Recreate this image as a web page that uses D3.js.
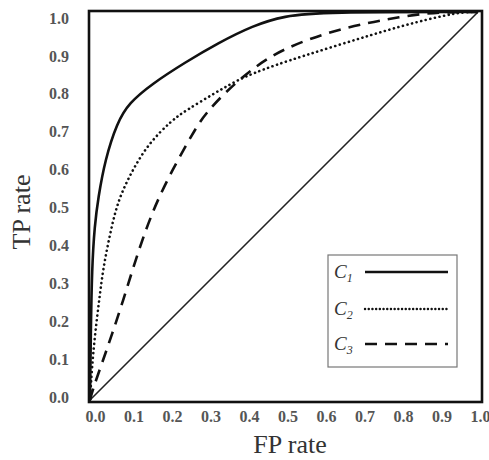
<!DOCTYPE html>
<html lang="en">
<head>
    <meta charset="UTF-8">
    <title>ROC curves</title>
    <style>
        body { margin: 0; background: #fff; }
        .tick text { font: bold 16px "Liberation Serif", "DejaVu Serif", serif; fill: #555; }
        .axis-title { font: 26px "Liberation Serif", serif; fill: #333; }
        .leg text { font: italic 19px "Liberation Serif", serif; fill: #333; }
    </style>
</head>
<body>
    <div id="chart"></div>

    <script src="https://d3js.org/d3.v7.min.js"></script>
    <script>
        // values
        const ticks = [0, 0.1, 0.2, 0.3, 0.4, 0.5, 0.6, 0.7, 0.8, 0.9, 1.0];

        const fpr1 = [0, 0.002, 0.005, 0.012, 0.021, 0.039, 0.07, 0.1, 0.16, 0.245, 0.33, 0.42, 0.5, 0.6, 1.0];
        const tpr1 = [0, 0.17, 0.34, 0.45, 0.52, 0.62, 0.715, 0.765, 0.815, 0.87, 0.92, 0.965, 0.99, 1.0, 1.0];

        const fpr2 = [0, 0.005, 0.013, 0.024, 0.034, 0.052, 0.072, 0.108, 0.15, 0.21, 0.245, 0.32, 0.38, 0.464, 0.64, 0.81, 0.93, 0.97, 1.0];
        const tpr2 = [0, 0.085, 0.17, 0.26, 0.34, 0.43, 0.515, 0.59, 0.66, 0.72, 0.745, 0.79, 0.825, 0.86, 0.915, 0.967, 0.995, 1.0, 1.0];

        const fpr3 = [0, 0.008, 0.031, 0.057, 0.085, 0.111, 0.137, 0.173, 0.224, 0.278, 0.30, 0.35, 0.42, 0.495, 0.64, 0.81, 0.9, 1.0];
        const tpr3 = [0, 0.03, 0.095, 0.17, 0.255, 0.34, 0.42, 0.515, 0.615, 0.71, 0.74, 0.795, 0.855, 0.905, 0.958, 0.99, 1.0, 1.0];

        const names = ["1", "2", "3"];
        const dashes = [null, "0.1 4.6", "12 8"];

        const width = 489, height = 460;
        const svg = d3.select("#chart").append("svg").attr("width", width).attr("height", height);

        const x = d3.scaleLinear().domain([0, 1]).range([90, 478]);
        const y = d3.scaleLinear().domain([0, 1]).range([400, 12]);
        // tick labels sit slightly inside the data range in the original
        const xl = d3.scaleLinear().domain([0, 1]).range([95, 480]);
        const yl = d3.scaleLinear().domain([0, 1]).range([397, 18]);

        svg.append("defs").append("clipPath").attr("id", "clip")
            .append("rect").attr("x", 89).attr("y", 11).attr("width", 393).attr("height", 391);

        // diagonal
        svg.append("line")
            .attr("x1", x(0)).attr("y1", y(0)).attr("x2", x(1)).attr("y2", y(1))
            .attr("stroke", "#222").attr("stroke-width", 1.6);

        const line = d3.line().x(d => x(d[0])).y(d => y(d[1])).curve(d3.curveBasis);
        const series = [d3.zip(fpr1, tpr1), d3.zip(fpr2, tpr2), d3.zip(fpr3, tpr3)];

        svg.append("g").attr("clip-path", "url(#clip)")
            .selectAll("path").data(series).join("path")
            .attr("d", line)
            .attr("fill", "none")
            .attr("stroke", "#111")
            .attr("stroke-width", 2.6)
            .attr("stroke-linecap", (d, i) => i == 1 ? "round" : "butt")
            .attr("stroke-dasharray", (d, i) => dashes[i]);

        // frame
        svg.append("rect").attr("x", 89).attr("y", 11).attr("width", 393).attr("height", 391)
            .attr("fill", "none").attr("stroke", "#111").attr("stroke-width", 2.6);

        svg.append("g").attr("transform", "translate(0,411)")
            .call(d3.axisBottom(xl).tickValues(ticks).tickFormat(d3.format(".1f")).tickSize(0).tickPadding(0))
            .call(g => g.select(".domain").remove());
        svg.append("g").attr("transform", "translate(69,0)")
            .call(d3.axisLeft(yl).tickValues(ticks).tickFormat(d3.format(".1f")).tickSize(0).tickPadding(0))
            .call(g => g.select(".domain").remove());

        svg.append("text").attr("class", "axis-title")
            .attr("x", 290).attr("y", 453).attr("text-anchor", "middle").text("FP rate");
        svg.append("text").attr("class", "axis-title")
            .attr("transform", "translate(30,212) rotate(-90)").attr("text-anchor", "middle").text("TP rate");

        // legend
        const leg = svg.append("g").attr("class", "leg");
        leg.append("rect").attr("x", 328).attr("y", 255).attr("width", 129).attr("height", 112)
            .attr("fill", "#fff").attr("stroke", "#777").attr("stroke-width", 1.2);
        const rowY = [272, 309, 344];
        names.forEach((n, i) => {
            const t = leg.append("text").attr("x", 334).attr("y", rowY[i] + 6);
            t.append("tspan").text("C");
            t.append("tspan").attr("font-size", 12).attr("dy", 4).text(n);
            leg.append("line").attr("x1", 365).attr("x2", 448).attr("y1", rowY[i]).attr("y2", rowY[i])
                .attr("stroke", "#111").attr("stroke-width", 2.4)
                .attr("stroke-linecap", i == 1 ? "round" : "butt")
                .attr("stroke-dasharray", i == 1 ? "0.1 3.6" : dashes[i]);
        });
    </script>
</body>
</html>
